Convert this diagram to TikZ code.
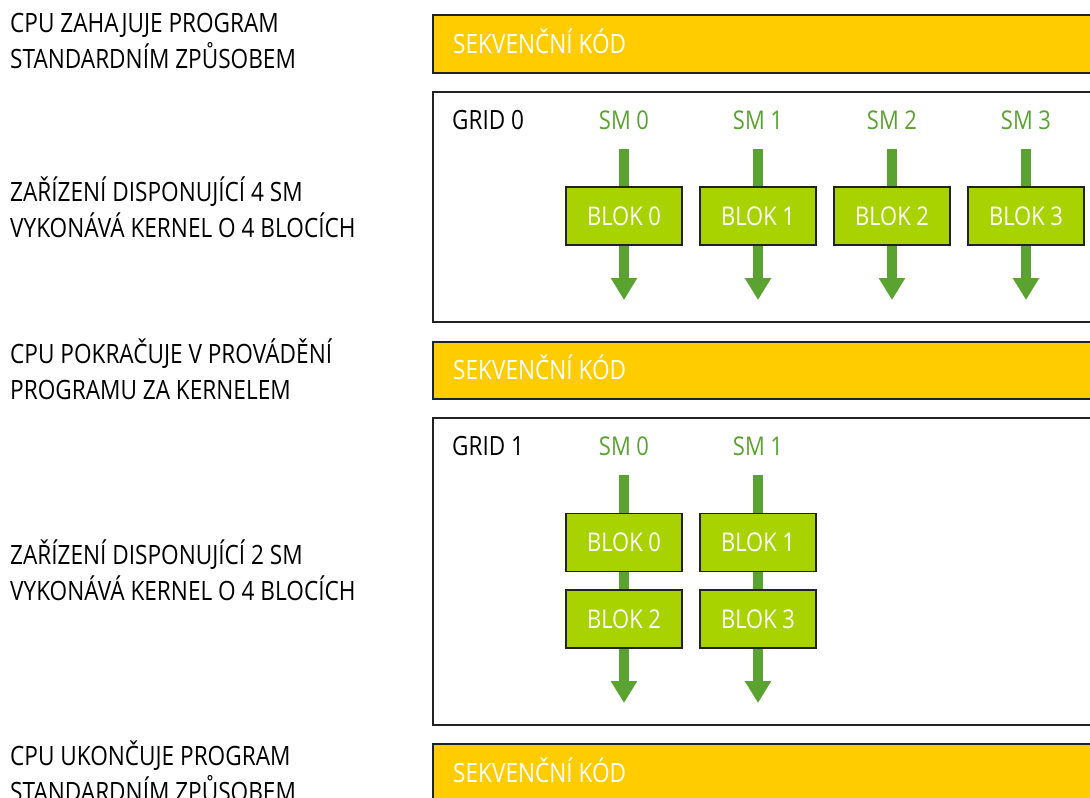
\documentclass[tikz,border=0pt]{standalone}
\usepackage{fontspec}
\setmainfont[FakeStretch=0.85]{Open Sans}
\usetikzlibrary{arrows.meta}
\definecolor{cpuyellow}{HTML}{FFCC00}
\definecolor{blockgreen}{HTML}{A8D300}
\definecolor{arrowgreen}{HTML}{5BA331}
\definecolor{edgegray}{HTML}{222222}
\begin{document}
\begin{tikzpicture}[x=1pt,y=-1pt,
  lbl/.style={anchor=base west, align=left, inner sep=0, font=\fontsize{26.6}{35.5}\selectfont},
  seqbar/.style={draw=edgegray, line width=1.8pt, fill=cpuyellow, anchor=north west, minimum width=700pt, inner sep=0},
  seqtxt/.style={anchor=base west, inner sep=0, text=white, font=\fontsize{26.6}{30}\selectfont},
  gridbox/.style={draw=edgegray, line width=1.8pt, fill=white, anchor=north west, minimum width=700pt, inner sep=0},
  gridtxt/.style={anchor=base west, inner sep=0, font=\fontsize{26.5}{30}\selectfont},
  smtxt/.style={anchor=base, inner sep=0, text=arrowgreen, font=\fontsize{25.8}{30}\selectfont},
  blockbox/.style={draw=edgegray, line width=1.8pt, fill=blockgreen, minimum width=116pt, minimum height=58pt, inner sep=0, text=white, font=\fontsize{25.8}{30}\selectfont},
  flow/.style={draw=arrowgreen, line width=10pt, -{Triangle[width=25pt,length=22pt]}}
]
\clip (0,0) rectangle (1090,798);
\fill[white] (0,0) rectangle (1090,798);

% left descriptions (anchor = baseline of the last line)
\node[lbl] (d1) at (10,68) {CPU ZAHAJUJE PROGRAM\\STANDARDNÍM ZPŮSOBEM};
\node[lbl] (d2) at (10,237) {ZAŘÍZENÍ DISPONUJÍCÍ 4 SM\\VYKONÁVÁ KERNEL O 4 BLOCÍCH};
\node[lbl] (d3) at (10,399) {CPU POKRAČUJE V PROVÁDĚNÍ\\PROGRAMU ZA KERNELEM};
\node[lbl] (d4) at (10,600) {ZAŘÍZENÍ DISPONUJÍCÍ 2 SM\\VYKONÁVÁ KERNEL O 4 BLOCÍCH};
\node[lbl] (d5) at (10,801) {CPU UKONČUJE PROGRAM\\STANDARDNÍM ZPŮSOBEM};

% sequential code bars
\node[seqbar, minimum height=58pt] (s1) at (432,14) {};
\node[seqtxt] (s1t) at (453,53) {SEKVENČNÍ KÓD};
\node[seqbar, minimum height=57pt] (s2) at (432,341) {};
\node[seqtxt] (s2t) at (453,379) {SEKVENČNÍ KÓD};
\node[seqbar, minimum height=80pt] (s3) at (432,743) {};
\node[seqtxt] (s3t) at (453,782) {SEKVENČNÍ KÓD};

% grid 0
\node[gridbox, minimum height=230pt] (g0) at (432,91) {};
\node[gridtxt] (g0t) at (452,129) {GRID 0};
\foreach \i/\x in {0/624,1/758,2/892,3/1026}{
  \node[smtxt] (sm0\i) at (\x,129) {SM \i};
  \coordinate (a0\i) at (\x,149);
  \coordinate (b0\i) at (\x,300);
  \draw[flow] (a0\i) -- (b0\i);
  \node[blockbox] (k0\i) at (\x,216) {BLOK \i};
}

% grid 1
\node[gridbox, minimum height=307pt] (g1) at (432,417) {};
\node[gridtxt] (g1t) at (452,455) {GRID 1};
\foreach \i/\x in {0/624,1/758}{
  \node[smtxt] (sm1\i) at (\x,455) {SM \i};
  \coordinate (a1\i) at (\x,475);
  \coordinate (b1\i) at (\x,703);
  \draw[flow] (a1\i) -- (b1\i);
}
\node[blockbox] (k10) at (624,542.5) {BLOK 0};
\node[blockbox] (k11) at (758,542.5) {BLOK 1};
\node[blockbox] (k12) at (624,619) {BLOK 2};
\node[blockbox] (k13) at (758,619) {BLOK 3};
\end{tikzpicture}
\end{document}
